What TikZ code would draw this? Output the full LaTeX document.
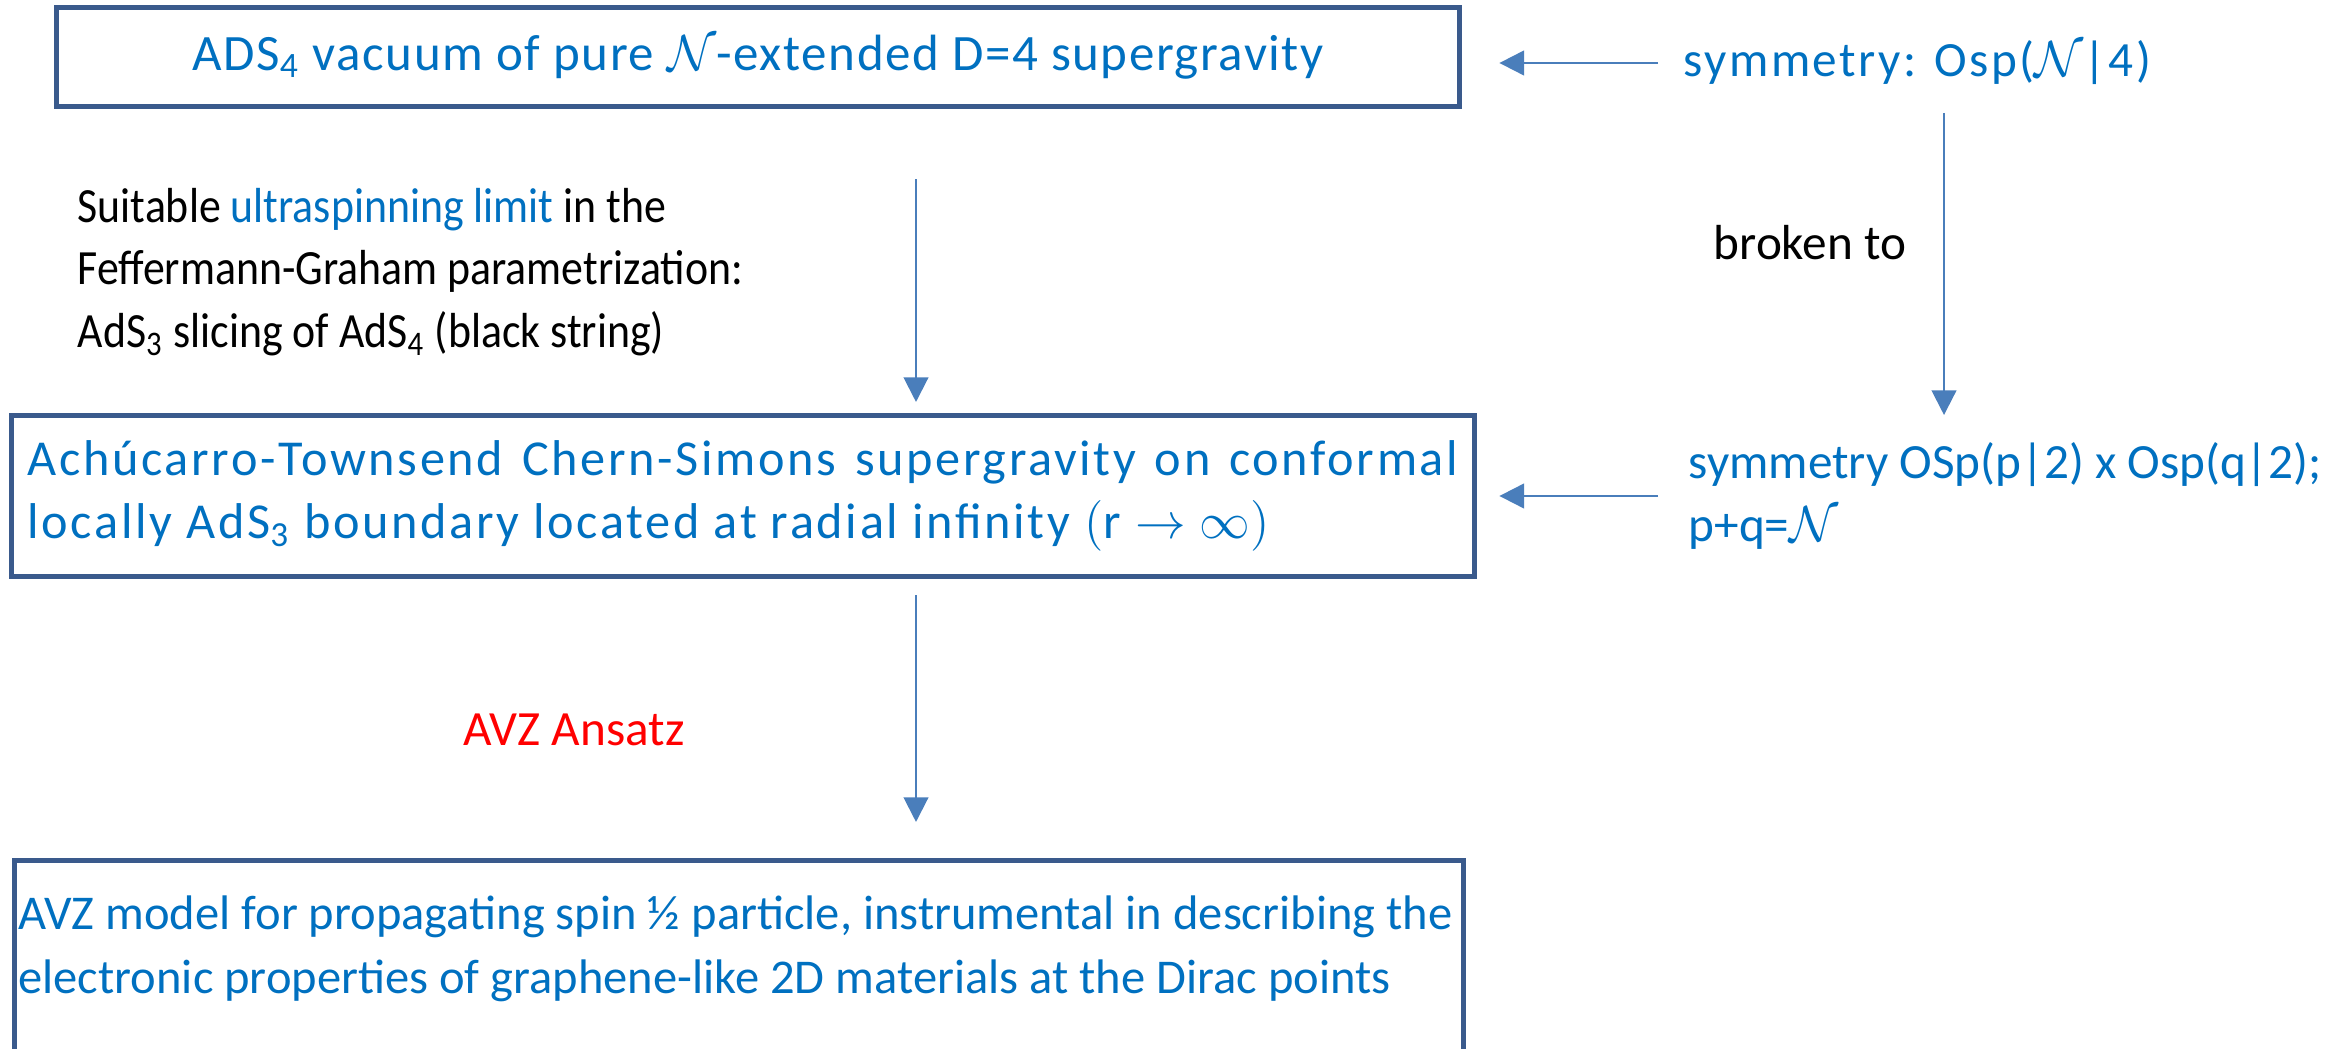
\documentclass[tikz,border=0pt]{standalone}
\usepackage{fontspec}
\setmainfont{Carlito}
\newfontfamily\narrowfont[FakeStretch=0.89]{Carlito}
\usepackage{xcolor}
\usetikzlibrary{positioning}
\usetikzlibrary{arrows.meta}

\definecolor{txtblue}{RGB}{0,112,192}
\definecolor{framecol}{RGB}{58,90,140}
\definecolor{arrcol}{RGB}{74,126,187}

\tikzset{
  frame/.style={draw=framecol, line width=1.4pt, inner sep=0pt},
  arr/.style={draw=arrcol, line width=0.6pt, -{Triangle[length=7pt,width=7pt]}},
  note/.style={inner sep=0pt, font=\fontsize{14}{17.8}\selectfont},
}

\begin{document}
\begin{tikzpicture}[x=0.01cm,y=-0.01cm]

  \useasboundingbox (0,0) rectangle (2336,1049);
  \clip (0,0) rectangle (2336,1049);

  \coordinate (col) at (916,0);
  \coordinate (rcol) at (1944,0);

  % boxes
  \node[frame, note, text=txtblue, minimum width=14.03cm, minimum height=0.99cm]
    (ads4) at (758,57) {\fontsize{14.5}{17.8}\selectfont\addfontfeature{LetterSpace=3.1}ADS\textsubscript{4} vacuum of pure $\mathcal{N}$-extended D=4 supergravity};

  \node[frame, note, text=txtblue, minimum width=14.63cm, minimum height=1.61cm,
    text width=14.3cm, align=justify]
    (ads3) at (743,496) {\fontsize{14.3}{18.2}\selectfont\addfontfeature{LetterSpace=5.3}Achúcarro-Townsend Chern-Simons supergravity on conformal locally AdS\textsubscript{3} boundary located at radial infinity $(\mathrm{r}\rightarrow\infty)$};

  \node[frame, note, text=txtblue, anchor=north west, inner xsep=0.04cm, inner ysep=0.35cm]
    (avz) at (12,858) {\parbox[c][4cm][t]{14.4cm}{\fontsize{13.8}{18.3}\selectfont\raggedright AVZ model for propagating spin ½ particle, instrumental in describing the\\
    electronic properties of graphene-like 2D materials at the Dirac points}};

  % side texts
  \node[note, text=txtblue, anchor=west] (osp4) at (1683,63) {\addfontfeature{LetterSpace=5}symmetry: Osp($\mathcal{N}$|4)};
  \node[note, text=txtblue, anchor=west, align=left] (osp2) at (1688,496)
    {symmetry OSp(p|2) x Osp(q|2);\\p+q=$\mathcal{N}$};
  \node[note, anchor=west, align=left] (limit) at (77,272)
    {\narrowfont Suitable \textcolor{txtblue}{ultraspinning limit} in the\\
     \narrowfont Feffermann-Graham parametrization:\\
     \narrowfont AdS\textsubscript{3} slicing of AdS\textsubscript{4} (black string)};
  \node[note] (broken) at (1810,243) {broken to};
  \node[note, text=red] (ansatz) at (574,730) {AVZ Ansatz};

  % arrows
  \draw[arr, shorten <=0.25cm, shorten >=0.37cm] (osp4.west) -- (osp4.west -| ads4.east);
  \draw[arr, shorten <=0.3cm, shorten >=0.22cm] (osp2.west) -- (ads3.east);
  \draw[arr, shorten <=0.7cm, shorten >=0.11cm] (ads4.south -| col) -- (ads3.north -| col);
  \draw[arr, shorten <=0.16cm, shorten >=0.36cm] (ads3.south -| col) -- (avz.north -| col);
  \draw[arr, shorten <=0.27cm, shorten >=0.27cm] (osp4.south -| rcol) -- (osp2.north -| rcol);

\end{tikzpicture}
\end{document}
